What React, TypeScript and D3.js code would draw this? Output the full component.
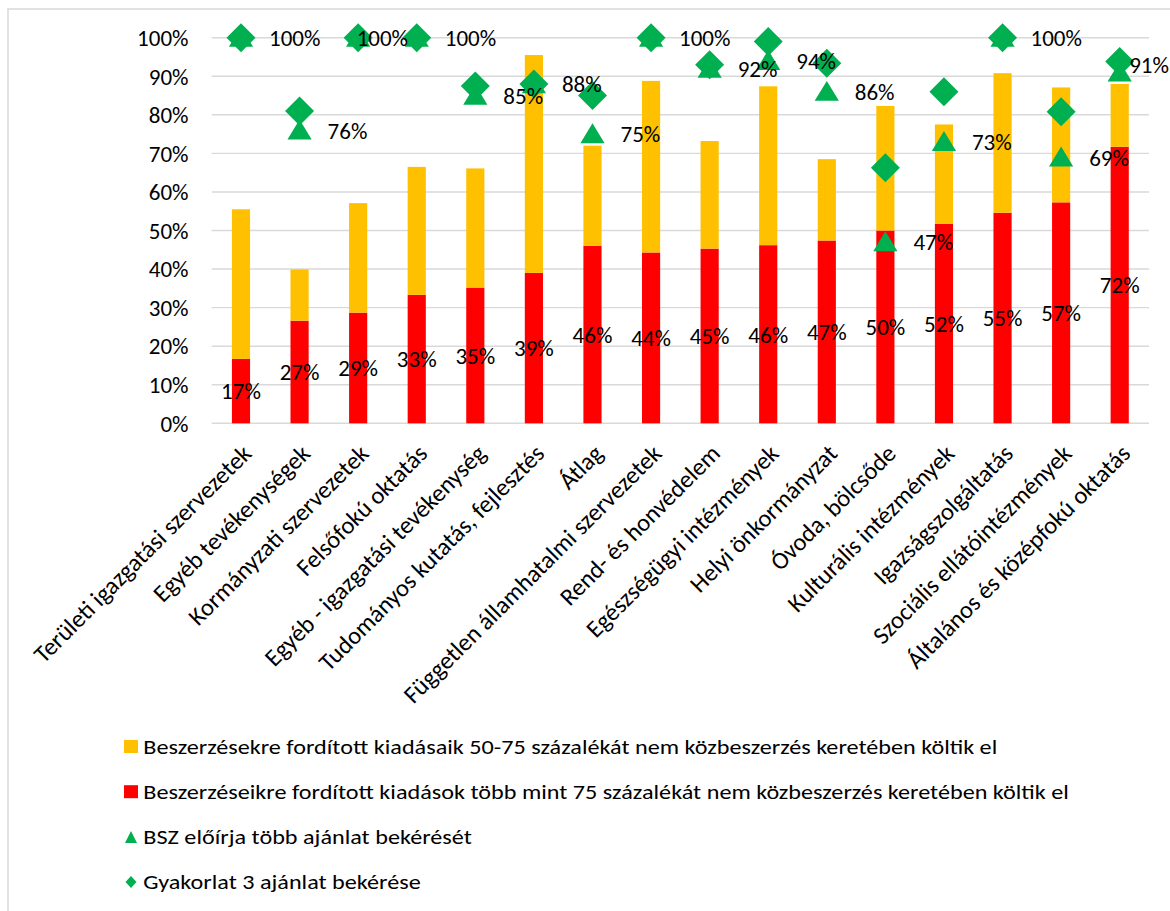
import React from "react";
import * as d3 from "d3";

const categories = [
  "Területi igazgatási szervezetek",
  "Egyéb tevékenységek",
  "Kormányzati szervezetek",
  "Felsőfokú oktatás",
  "Egyéb - igazgatási tevékenység",
  "Tudományos kutatás, fejlesztés",
  "Átlag",
  "Független államhatalmi szervezetek",
  "Rend- és honvédelem",
  "Egészségügyi intézmények",
  "Helyi önkormányzat",
  "Óvoda, bölcsőde",
  "Kulturális intézmények",
  "Igazságszolgáltatás",
  "Szociális ellátóintézmények",
  "Általános és középfokú oktatás",
];

// >75% spent outside public procurement (red)
const over75 = [0.167, 0.266, 0.287, 0.333, 0.352, 0.39, 0.46, 0.443, 0.453, 0.462, 0.474, 0.5, 0.517, 0.546, 0.573, 0.717];
// 50-75% (yellow, stacked on top)
const from50to75 = [0.388, 0.133, 0.284, 0.332, 0.309, 0.565, 0.26, 0.445, 0.279, 0.412, 0.211, 0.323, 0.258, 0.362, 0.298, 0.163];
// BSZ előírja (triangles, labelled)
const bsz = [1.0, 0.76, 1.0, 1.0, 0.85, 0.88, 0.75, 1.0, 0.92, 0.94, 0.86, 0.47, 0.73, 1.0, 0.69, 0.91];
// Gyakorlat 3 ajánlat (diamonds)
const gyakorlat = [1.0, 0.81, 1.0, 1.0, 0.875, 0.88, 0.85, 1.0, 0.93, 0.99, 0.934, 0.663, 0.86, 1.0, 0.808, 0.938];

const yTicks = [0, 0.1, 0.2, 0.3, 0.4, 0.5, 0.6, 0.7, 0.8, 0.9, 1.0];

const legendItems = [
  { label: "Beszerzésekre fordított kiadásaik 50-75 százalékát nem közbeszerzés keretében költik el", shape: "square", color: "#FFC000" },
  { label: "Beszerzéseikre fordított kiadások több mint 75 százalékát nem közbeszerzés keretében költik el", shape: "square", color: "#FF0000" },
  { label: "BSZ előírja több ajánlat bekérését", shape: "triangle", color: "#00B050" },
  { label: "Gyakorlat 3 ajánlat bekérése", shape: "diamond", color: "#00B050" },
];

const W = 1170;
const H = 911;
const FONT = "Calibri, Carlito, Lato, sans-serif";
const YELLOW = "#FFC000";
const RED = "#FF0000";
const GREEN = "#00B050";
const GRID = "#d9d9d9";

const pct = (v: number) => `${Math.round(v * 100)}%`;

// Excel had a couple of labels dragged by hand
const labelNudge: Record<number, { dx: number; dy: number }> = {
  2: { dx: -29.5, dy: 0 },
  15: { dx: -18.5, dy: -7.5 },
};

export default function App() {
  const left = 211.7;
  const right = 1149;
  const top = 37.7;
  const bottom = 423.3;

  const x = d3
    .scaleBand<string>()
    .domain(categories)
    .range([left, right])
    .paddingInner(0.69)
    .paddingOuter(0.345);
  const y = d3.scaleLinear().domain([0, 1]).range([bottom, top]);
  const cx = (c: string) => (x(c) as number) + x.bandwidth() / 2;

  const tri = d3.symbol().type(d3.symbolTriangle).size(230)();
  const diamond = "M0,-14.5L14.5,0L0,14.5L-14.5,0Z";

  return (
    <svg
      width={W}
      height={H}
      style={{ position: "absolute", left: 0, top: 0 }}
      fontFamily={FONT}
    >
      <rect x={0} y={0} width={W} height={H} fill="#fff" />
      <rect x={8} y={9} width={W + 20} height={H + 20} fill="none" stroke={GRID} strokeWidth={1.5} />

      {/* grid + y ticks */}
      {yTicks.map((t) => (
        <g key={t}>
          <line x1={left} x2={right} y1={y(t)} y2={y(t)} stroke={GRID} strokeWidth={1.4} />
          <text x={188.5} y={y(t)} dy="0.36em" textAnchor="end" fontSize={23} fill="#000">
            {pct(t)}
          </text>
        </g>
      ))}

      {/* stacked bars */}
      {categories.map((c, i) => (
        <g key={c}>
          <rect x={x(c)} width={x.bandwidth()} y={y(over75[i])} height={y(0) - y(over75[i])} fill={RED} />
          <rect
            x={x(c)}
            width={x.bandwidth()}
            y={y(over75[i] + from50to75[i])}
            height={y(over75[i]) - y(over75[i] + from50to75[i])}
            fill={YELLOW}
          />
        </g>
      ))}

      {/* triangles */}
      {categories.map((c, i) => (
        <path key={"t" + c} d={tri as string} transform={`translate(${cx(c)},${y(bsz[i]) + 2.5}) scale(1.05,1)`} fill={GREEN} />
      ))}
      {/* diamonds */}
      {categories.map((c, i) => (
        <path key={"d" + c} d={diamond} transform={`translate(${cx(c)},${y(gyakorlat[i])})`} fill={GREEN} />
      ))}

      {/* red value labels */}
      {categories.map((c, i) => (
        <text key={"r" + c} x={cx(c)} y={y(over75[i] / 2)} dy="0.36em" textAnchor="middle" fontSize={23} fill="#000">
          {pct(over75[i])}
        </text>
      ))}
      {/* triangle labels */}
      {categories.map((c, i) => {
        const n = labelNudge[i] || { dx: 0, dy: 0 };
        return (
          <text key={"l" + c} x={cx(c) + 28 + n.dx} y={y(bsz[i]) + n.dy} dy="0.36em" fontSize={23} fill="#000">
            {pct(bsz[i])}
          </text>
        );
      })}

      {/* category labels */}
      {categories.map((c) => (
        <text
          key={"c" + c}
          transform={`translate(${cx(c) + 12},455) rotate(-45)`}
          textAnchor="end"
          fontSize={24.5}
          fill="#000"
        >
          {c}
        </text>
      ))}

      {/* legend */}
      {legendItems.map((d, i) => {
        const ly = 746.5 + i * 45.2;
        return (
          <g key={d.label} transform={`translate(131,${ly})`}>
            {d.shape === "square" && <rect x={-7} y={-6.5} width={14} height={13} fill={d.color} />}
            {d.shape === "triangle" && <path d="M0,-6L6,6L-6,6Z" fill={d.color} />}
            {d.shape === "diamond" && <path d="M0,-6L5.5,0L0,6L-5.5,0Z" fill={d.color} />}
            <text transform="translate(12.3,0) scale(1.21,1)" dy="0.36em" fontSize={20} fill="#000">
              {d.label}
            </text>
          </g>
        );
      })}
    </svg>
  );
}
